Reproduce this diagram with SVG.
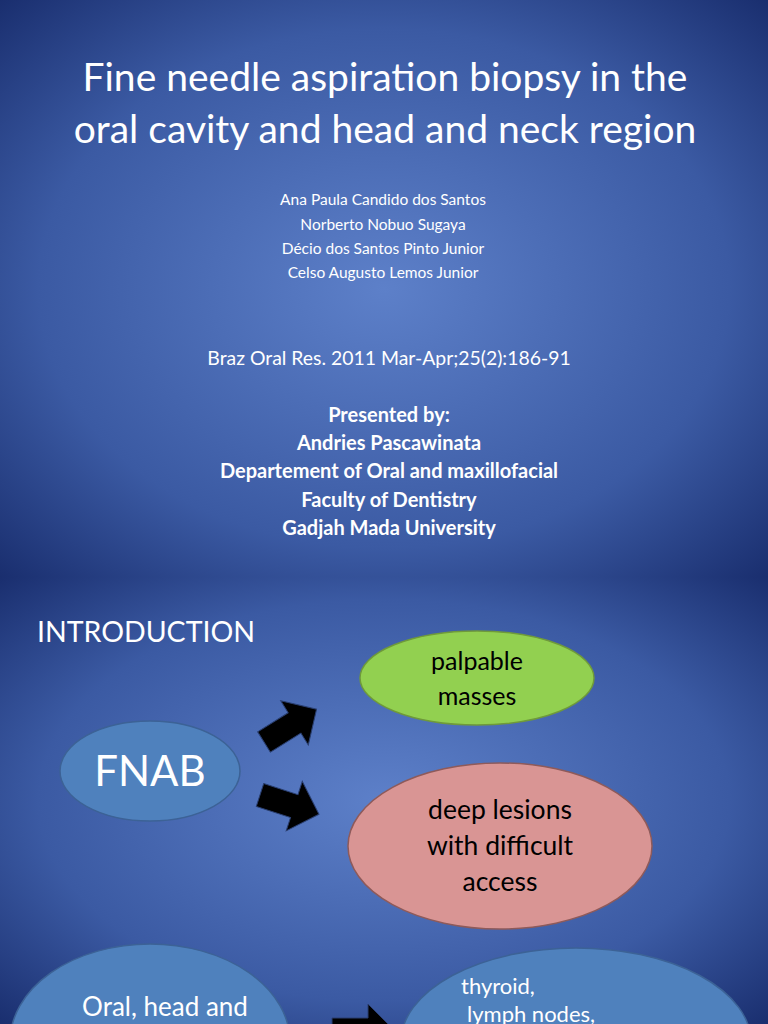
<svg xmlns="http://www.w3.org/2000/svg" width="768" height="1024" viewBox="0 0 768 1024">
<defs>
<radialGradient id="bg" cx="0.5" cy="0.5" r="0.75">
<stop offset="0" stop-color="#5d80c9"/><stop offset="0.6" stop-color="#3b5aa3"/><stop offset="1" stop-color="#142766"/>
</radialGradient>
<path id="arr" d="M0,-12 L36,-12 L36,-26 L62,0 L36,26 L36,12 L0,12 Z"/>
</defs>
<style>
text{font-family:Lato,"Liberation Sans",sans-serif;text-anchor:middle}
.w{fill:#fff}.k{fill:#000}.b{font-weight:bold}
.arrow{fill:#000;stroke:#2a3f70;stroke-width:1}
</style>
<rect x="0" y="0" width="768" height="577" fill="url(#bg)"/>
<rect x="0" y="577" width="768" height="447" fill="url(#bg)"/>
<g id="slide1">
<text class="w" x="385" y="91" font-size="39">Fine needle aspiration biopsy in the</text>
<text class="w" x="385" y="143" font-size="39">oral cavity and head and neck region</text>
<text class="w" x="383" y="205" font-size="15.5">Ana Paula Candido dos Santos</text>
<text class="w" x="383" y="230" font-size="15.5">Norberto Nobuo Sugaya</text>
<text class="w" x="383" y="254" font-size="15.5">Décio dos Santos Pinto Junior</text>
<text class="w" x="383" y="278" font-size="15.5">Celso Augusto Lemos Junior</text>
<text class="w" x="389" y="365" font-size="19.4">Braz Oral Res. 2011 Mar-Apr;25(2):186-91</text>
<text class="w b" x="389" y="422" font-size="20">Presented by:</text>
<text class="w b" x="389" y="450" font-size="20">Andries Pascawinata</text>
<text class="w b" x="389" y="478" font-size="20">Departement of Oral and maxillofacial</text>
<text class="w b" x="389" y="507" font-size="20">Faculty of Dentistry</text>
<text class="w b" x="389" y="535" font-size="20">Gadjah Mada University</text>
</g>
<text class="w" x="146" y="642" font-size="28.5">INTRODUCTION</text>
<g id="connectors">
<use href="#arr" class="arrow" transform="translate(264,742) rotate(-32)"/>
<use href="#arr" class="arrow" transform="translate(260,795) rotate(18)"/>
<use href="#arr" class="arrow" transform="translate(332,1030) rotate(0)"/>
</g>
<g id="fnab"><ellipse cx="150" cy="771" rx="90" ry="50" fill="#4f81bd" stroke="#3c6296" stroke-width="1.5"/>
<text class="w" x="150" y="786" font-size="42">FNAB</text></g>
<g id="palpable"><ellipse cx="477" cy="678" rx="117" ry="47" fill="#92d050" stroke="#6f9a3a" stroke-width="1.5"/>
<text class="k" x="477" y="670" font-size="25">palpable</text>
<text class="k" x="477" y="705" font-size="25">masses</text></g>
<g id="deep"><ellipse cx="500" cy="846" rx="152" ry="83" fill="#d99594" stroke="#8e5a5a" stroke-width="1.5"/>
<text class="k" x="500" y="819" font-size="26.5">deep lesions</text>
<text class="k" x="500" y="855" font-size="26.5">with difficult</text>
<text class="k" x="500" y="891" font-size="26.5">access</text></g>
<g id="oral"><ellipse cx="150" cy="1042" rx="140" ry="98" fill="#4f81bd" stroke="#3c6296" stroke-width="1.5"/>
<text class="w" x="165" y="1016" font-size="26">Oral, head and</text></g>
<g id="thyroid"><ellipse cx="576" cy="1042" rx="175" ry="94" fill="#4f81bd" stroke="#3c6296" stroke-width="1.5"/>
<text class="w" x="461" y="994" font-size="22" style="text-anchor:start">thyroid,</text>
<text class="w" x="467" y="1022" font-size="22" style="text-anchor:start">lymph nodes,</text></g>
</svg>
